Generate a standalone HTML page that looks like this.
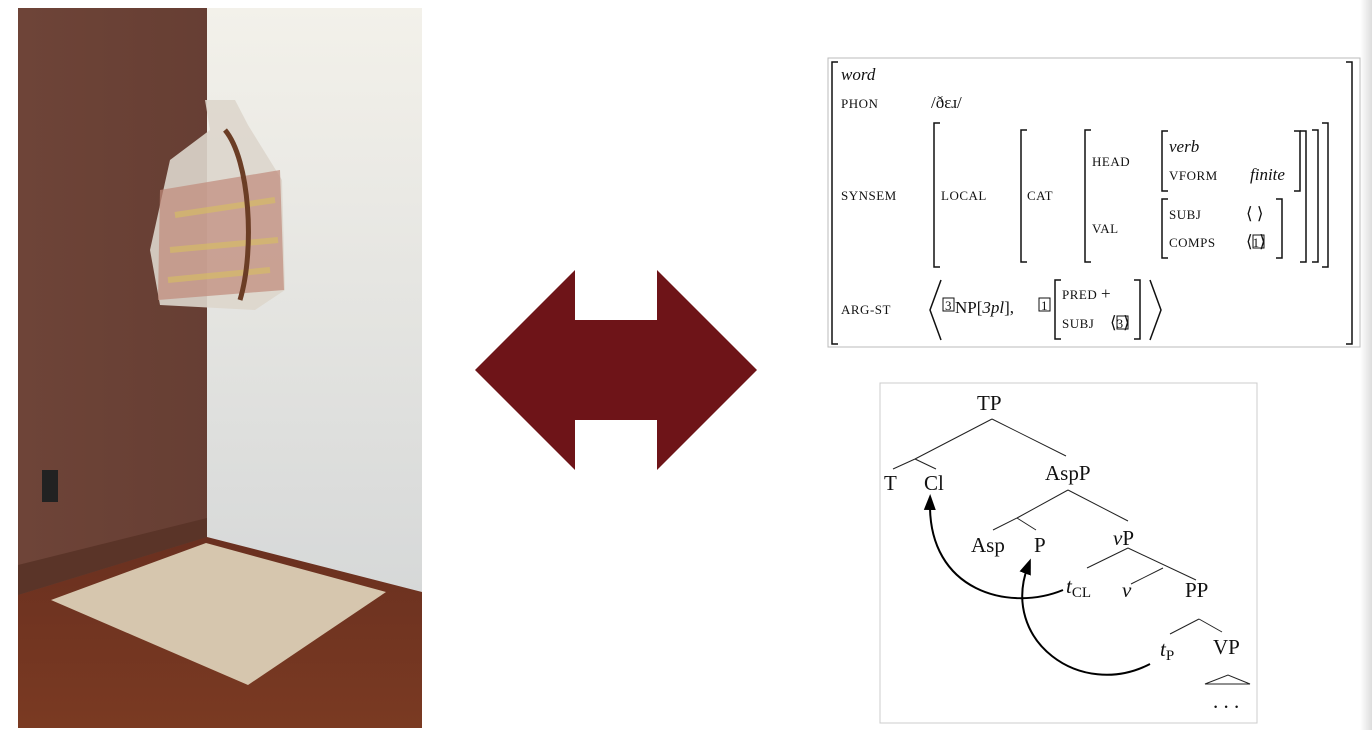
<!DOCTYPE html>
<html><head><meta charset="utf-8"><style>
body{margin:0;background:#fff;width:1372px;height:730px;overflow:hidden}
svg{display:block}
.sc{font-family:"Liberation Serif",serif;font-size:13px;letter-spacing:0.5px}
.it{font-family:"Liberation Serif",serif;font-style:italic;font-size:17px}
.rm{font-family:"Liberation Serif",serif;font-size:17px}
.tr{font-family:"Liberation Serif",serif;font-size:21px}
</style></head><body>
<svg width="1372" height="730" viewBox="0 0 1372 730">
<defs>
<linearGradient id="edge" x1="0" x2="1"><stop offset="0" stop-color="#fff"/><stop offset="1" stop-color="#ddd"/></linearGradient>
<linearGradient id="wall" x1="0" x2="1"><stop offset="0" stop-color="#6e4438"/><stop offset="1" stop-color="#5e382e"/></linearGradient>
<linearGradient id="wall2" x1="0" x2="0" y1="0" y2="1"><stop offset="0" stop-color="#f3f1ea"/><stop offset="1" stop-color="#d6d8d8"/></linearGradient>
<linearGradient id="floor" x1="0" x2="0" y1="0" y2="1"><stop offset="0" stop-color="#6a3020"/><stop offset="1" stop-color="#7a3a22"/></linearGradient>
<marker id="ah" markerWidth="8" markerHeight="8" refX="4" refY="4" orient="auto"><path d="M0,1 L8,4 L0,7 z" fill="#000"/></marker>
</defs>
<rect x="1360" y="0" width="12" height="730" fill="url(#edge)"/>
<g>
<rect x="18" y="8" width="404" height="720" fill="url(#wall)"/>
<rect x="207" y="8" width="215" height="590" fill="url(#wall2)"/>
<polygon points="18,595 207,537 422,592 422,728 18,728" fill="url(#floor)"/>
<polygon points="18,565 207,518 207,537 18,595" fill="#5a3428"/>
<polygon points="51,600 206,543 386,592 248,685" fill="#d6c6ae"/>
<rect x="42" y="470" width="16" height="32" fill="#222"/>
<path d="M205,100 L235,100 L248,125 L282,180 L285,290 L255,310 L160,305 L150,250 L170,160 L210,130 Z" fill="#ddd6cc" opacity="0.9"/>
<path d="M160,190 L280,170 L284,290 L158,300 Z" fill="#c08a7a" opacity="0.7"/>
<path d="M175,215 L275,200 M170,250 L278,240 M168,280 L270,270" stroke="#d8c060" stroke-width="6" opacity="0.6"/>
<path d="M225,130 C 250,160 255,250 240,300" stroke="#6b3d25" stroke-width="5" fill="none"/>
</g>
<polygon points="475,370 575,270 575,320 657,320 657,270 757,370 657,470 657,420 575,420 575,470" fill="#6e1418"/>
<g fill="#111">
<rect x="828" y="58" width="532" height="289" fill="#fff" stroke="#bbb"/>
<g fill="none" stroke="#111" stroke-width="1.5">
<path d="M838,62 H832 V344 H838"/><path d="M1346,62 H1352 V344 H1346"/>
<path d="M940,123 H934 V267 H940"/><path d="M1027,130 H1021 V262 H1027"/>
<path d="M1091,130 H1085 V262 H1091"/>
<path d="M1168,131 H1162 V191 H1168"/><path d="M1294,131 H1300 V191 H1294"/>
<path d="M1168,199 H1162 V258 H1168"/><path d="M1276,199 H1282 V258 H1276"/>
<path d="M1300,131 H1306 V262 H1300"/><path d="M1312,130 H1318 V262 H1312"/><path d="M1322,123 H1328 V267 H1322"/>
<path d="M1061,280 H1055 V339 H1061"/><path d="M1134,280 H1140 V339 H1134"/>
<path d="M941,280 L930,310 L941,340"/><path d="M1150,280 L1161,310 L1150,340"/>
</g>
<text class="it" x="841" y="80">word</text>
<text class="sc" x="841" y="108">PHON</text><text class="rm" x="931" y="108">/ðɛɹ/</text>
<text class="sc" x="841" y="200">SYNSEM</text><text class="sc" x="941" y="200">LOCAL</text><text class="sc" x="1027" y="200">CAT</text>
<text class="sc" x="1092" y="166">HEAD</text><text class="sc" x="1092" y="233">VAL</text>
<text class="it" x="1169" y="152">verb</text><text class="sc" x="1169" y="180">VFORM</text><text class="it" x="1250" y="180">finite</text>
<text class="sc" x="1169" y="219">SUBJ</text><text class="rm" x="1246" y="219">⟨ ⟩</text>
<text class="sc" x="1169" y="247">COMPS</text><text class="rm" x="1246" y="247">⟨<tspan font-size="13">1</tspan>⟩</text>
<rect x="1253" y="235" width="11" height="13" fill="none" stroke="#111"/>
<text class="sc" x="841" y="314">ARG-ST</text>
<rect x="943" y="298" width="11" height="13" fill="none" stroke="#111"/><text class="sc" x="945" y="310" font-size="12">3</text>
<text class="rm" x="955" y="313">NP[<tspan font-style="italic">3pl</tspan>],</text>
<rect x="1039" y="298" width="11" height="13" fill="none" stroke="#111"/><text class="sc" x="1041" y="310" font-size="12">1</text>
<text class="sc" x="1062" y="299">PRED <tspan font-size="17">+</tspan></text>
<text class="sc" x="1062" y="328">SUBJ</text><text class="rm" x="1110" y="328">⟨<tspan font-size="13">3</tspan>⟩</text>
<rect x="1117" y="316" width="11" height="13" fill="none" stroke="#111"/>
</g>
<g>
<rect x="880" y="383" width="377" height="340" fill="#fff" stroke="#ccc"/>
<g stroke="#222" stroke-width="1" fill="none">
<path d="M992,419 L915,459 M992,419 L1066,456"/>
<path d="M915,459 L893,469 M915,459 L936,469"/>
<path d="M1068,490 L1017,518 M1068,490 L1128,521"/>
<path d="M1017,518 L993,530 M1017,518 L1036,530"/>
<path d="M1128,548 L1087,568 M1128,548 L1196,580 M1163,568 L1131,584"/>
<path d="M1199,619 L1170,634 M1199,619 L1222,632"/>
<path d="M1205,684 L1228,675 L1250,684 Z"/>
</g>
<g class="tr" fill="#111">
<text x="977" y="410">TP</text><text x="884" y="490">T</text><text x="924" y="490">Cl</text>
<text x="1045" y="480">AspP</text><text x="971" y="552">Asp</text><text x="1034" y="552">P</text>
<text x="1113" y="545"><tspan font-style="italic">v</tspan>P</text>
<text x="1066" y="593"><tspan font-style="italic">t</tspan><tspan font-size="15" dy="4">CL</tspan></text>
<text x="1122" y="597" font-style="italic">v</text><text x="1185" y="597">PP</text>
<text x="1160" y="656"><tspan font-style="italic">t</tspan><tspan font-size="15" dy="4">P</tspan></text>
<text x="1213" y="654">VP</text><text x="1213" y="708">. . .</text>
</g>
<path d="M1063,590 C1010,612 928,592 930,502" stroke="#000" stroke-width="2" fill="none" marker-end="url(#ah)"/>
<path d="M1150,664 C1080,700 1000,640 1028,566" stroke="#000" stroke-width="2" fill="none" marker-end="url(#ah)"/>
</g>
</svg>
</body></html>
